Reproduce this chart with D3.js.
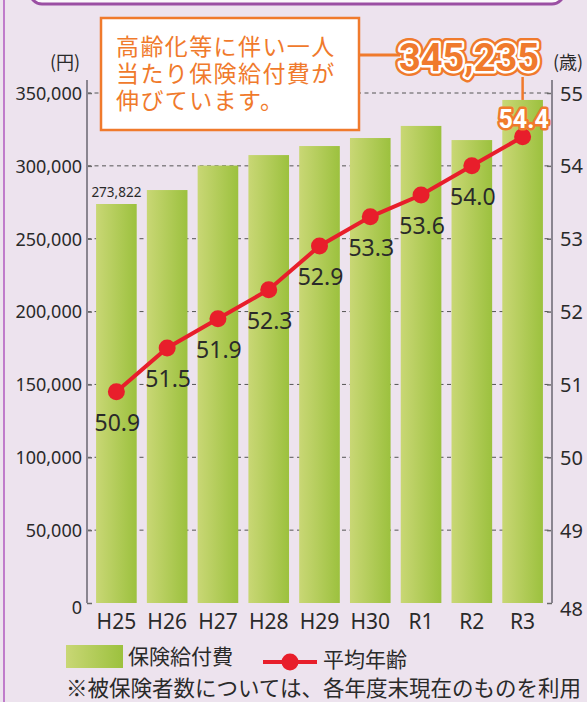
<!DOCTYPE html>
<html>
<head>
<meta charset="utf-8">
<script src="https://cdn.jsdelivr.net/npm/d3@7"></script>
<style>
  body { margin: 0; background: #ede3ee; }
  svg { display: block; }
</style>
</head>
<body>
<div id="chart"></div>
<script>
// data
const years = ["H25", "H26", "H27", "H28", "H29", "H30", "R1", "R2", "R3"];
const benefits = [273822, 283400, 300200, 307400, 313600, 319100, 327400, 317700, 345235];
const avgAge = [50.9, 51.5, 51.9, 52.3, 52.9, 53.3, 53.6, 54.0, 54.4];
const yenTicks = [0, 50000, 100000, 150000, 200000, 250000, 300000, 350000];
const ageTicks = [48, 49, 50, 51, 52, 53, 54, 55];
const calloutLines = ["高齢化等に伴い一人", "当たり保険給付費が", "伸びています。"];
const legendNames = ["保険給付費", "平均年齢"];
const note = "※被保険者数については、各年度末現在のものを利用";

const W = 587, H = 702;
const orange = "#f07a2c", red = "#e81e2b", ink = "#2a2a2a";
const jp = "'Noto Sans CJK JP', 'Noto Sans', sans-serif";
const num = "'Noto Sans', 'DejaVu Sans', sans-serif";

const svg = d3.select("#chart").append("svg")
    .attr("width", W)
    .attr("height", H);

const defs = svg.append("defs");
const grad = defs.append("linearGradient")
    .attr("id", "barGrad")
    .attr("x1", "0%").attr("x2", "100%").attr("y1", "0%").attr("y2", "0%");
grad.append("stop").attr("offset", "0%").attr("stop-color", "#c9d775");
grad.append("stop").attr("offset", "100%").attr("stop-color", "#9cc13e");

svg.append("rect").attr("width", W).attr("height", H).attr("fill", "#ede3ee");

// frame bits of the page
svg.append("rect")
    .attr("x", 30).attr("y", -40).attr("width", 534).attr("height", 44)
    .attr("rx", 12)
    .attr("fill", "#fbf8fb").attr("stroke", "#9b4fa3").attr("stroke-width", 3);
svg.append("line")
    .attr("x1", 4).attr("x2", 4).attr("y1", 0).attr("y2", H)
    .attr("stroke", "#c07ccb").attr("stroke-width", 2);

// scales
const x = d3.scaleBand()
    .domain(years)
    .range([91, 548])
    .paddingInner(0.2)
    .paddingOuter(0.1);

const yL = d3.scaleLinear().domain([0, 350000]).range([603, 93]);
const yR = d3.scaleLinear().domain([48, 55]).range([603, 93]);

const axisLeftX = 87, axisRightX = 552;

// dashed grid
svg.append("g").selectAll("line")
    .data(yenTicks.filter(d => d > 0))
    .enter().append("line")
    .attr("x1", axisLeftX).attr("x2", axisRightX)
    .attr("y1", d => yL(d)).attr("y2", d => yL(d))
    .attr("stroke", "#555")
    .attr("stroke-width", 1)
    .attr("stroke-dasharray", "4,3.5");

// bars
svg.append("g").selectAll("rect")
    .data(benefits)
    .enter().append("rect")
    .attr("x", (d, i) => x(years[i]))
    .attr("width", x.bandwidth())
    .attr("y", d => yL(d))
    .attr("height", d => yL(0) - yL(d))
    .attr("fill", "url(#barGrad)");

// first bar value
svg.append("text")
    .attr("x", x(years[0]) + x.bandwidth() / 2)
    .attr("y", yL(benefits[0]) - 7)
    .attr("text-anchor", "middle")
    .attr("font-family", num)
    .attr("font-size", 14)
    .attr("textLength", 50)
    .attr("lengthAdjust", "spacingAndGlyphs")
    .attr("fill", ink)
    .text(d3.format(",")(benefits[0]));

// axes
const gL = svg.append("g")
    .attr("transform", `translate(${axisLeftX},0)`)
    .call(d3.axisLeft(yL).tickValues(yenTicks).tickFormat(d3.format(",")).tickSize(-5).tickPadding(5));
const gR = svg.append("g")
    .attr("transform", `translate(${axisRightX},0)`)
    .call(d3.axisRight(yR).tickValues(ageTicks).tickFormat(d3.format("d")).tickSize(-5).tickPadding(8));

[gL, gR].forEach(g => {
    g.select(".domain").remove();
    g.selectAll(".tick line").attr("stroke", "#6a6a6a").attr("stroke-width", 1.5);
    g.selectAll(".tick text")
        .attr("fill", ink)
        .attr("font-family", num);
});
gL.selectAll(".tick text").attr("font-size", 18).attr("dy", "0.35em");
gR.selectAll(".tick text").attr("font-size", 20).attr("dy", "0.35em");
gR.selectAll(".tick").filter(d => d === 48).select("text").attr("dy", "0.6em");
gL.selectAll(".tick").filter(d => d === 0).select("text").attr("dy", "0.6em");

[axisLeftX, axisRightX].forEach(ax => {
    svg.append("line")
        .attr("x1", ax).attr("x2", ax).attr("y1", 80).attr("y2", 603)
        .attr("stroke", "#8a8590").attr("stroke-width", 2);
});

// x labels
svg.append("g").selectAll("text")
    .data(years)
    .enter().append("text")
    .attr("x", d => x(d) + x.bandwidth() / 2)
    .attr("y", 629)
    .attr("text-anchor", "middle")
    .attr("font-family", num)
    .attr("font-size", 21)
    .attr("fill", ink)
    .text(d => d);

// unit labels
svg.append("text")
    .attr("x", 65).attr("y", 69)
    .attr("text-anchor", "middle")
    .attr("font-family", jp).attr("font-size", 18).attr("fill", ink)
    .text("(円)");
svg.append("text")
    .attr("x", 568).attr("y", 69)
    .attr("text-anchor", "middle")
    .attr("font-family", jp).attr("font-size", 18).attr("fill", ink)
    .text("(歳)");

// age line
const cx = i => x(years[i]) + x.bandwidth() / 2;
const line = d3.line()
    .x((d, i) => cx(i))
    .y(d => yR(d));

svg.append("path")
    .datum(avgAge)
    .attr("d", line)
    .attr("fill", "none")
    .attr("stroke", red)
    .attr("stroke-width", 4);

svg.append("g").selectAll("circle")
    .data(avgAge)
    .enter().append("circle")
    .attr("cx", (d, i) => cx(i))
    .attr("cy", d => yR(d))
    .attr("r", 8.5)
    .attr("fill", red);

// age labels
svg.append("g").selectAll("text")
    .data(avgAge.slice(0, -1))
    .enter().append("text")
    .attr("x", (d, i) => cx(i) + 1)
    .attr("y", d => yR(d) + 39)
    .attr("text-anchor", "middle")
    .attr("font-family", num)
    .attr("font-size", 23)
    .attr("fill", ink)
    .text(d => d.toFixed(1));

// last age label: white with orange outline
const last = avgAge.length - 1;
svg.append("text")
    .attr("x", cx(last) + 1)
    .attr("y", yR(avgAge[last]) - 9)
    .attr("text-anchor", "middle")
    .attr("font-family", "Roboto, 'Noto Sans', sans-serif")
    .attr("font-weight", "bold")
    .attr("font-size", 25)
    .attr("fill", "#fff")
    .attr("stroke", orange)
    .attr("stroke-width", 5)
    .attr("stroke-linejoin", "round")
    .attr("paint-order", "stroke")
    .text(avgAge[last].toFixed(1));

// callout
svg.append("line")
    .attr("x1", cx(last)).attr("x2", cx(last))
    .attr("y1", 77).attr("y2", yL(benefits[last]))
    .attr("stroke", orange).attr("stroke-width", 2.5);
svg.append("line")
    .attr("x1", 358).attr("x2", 400).attr("y1", 55).attr("y2", 55)
    .attr("stroke", orange).attr("stroke-width", 3);

svg.append("rect")
    .attr("x", 101).attr("y", 18).attr("width", 258).attr("height", 112)
    .attr("fill", "#fff")
    .attr("stroke", orange).attr("stroke-width", 2.5);

svg.append("g").selectAll("text")
    .data(calloutLines)
    .enter().append("text")
    .attr("x", 116)
    .attr("y", (d, i) => 55 + i * 27)
    .attr("font-family", jp)
    .attr("font-size", 23)
    .attr("letter-spacing", 1.4)
    .attr("fill", orange)
    .text(d => d);

const bigText = d3.format(",")(benefits[last]);
[{w: 10, c: orange}, {w: 5, c: "#fff"}, {w: 0, c: "none"}].forEach(s => {
    svg.append("text")
        .attr("x", 469).attr("y", 71)
        .attr("text-anchor", "middle")
        .attr("font-family", "Roboto, 'Noto Sans', sans-serif")
        .attr("font-weight", "bold")
        .attr("font-size", 39)
        .attr("textLength", 140)
        .attr("lengthAdjust", "spacingAndGlyphs")
        .attr("fill", orange)
        .attr("stroke", s.c)
        .attr("stroke-width", s.w)
        .attr("stroke-linejoin", "round")
        .text(bigText);
});

// legend
const legend = svg.append("g");
legend.append("rect")
    .attr("x", 66).attr("y", 645).attr("width", 57).attr("height", 23)
    .attr("fill", "url(#barGrad)");
legend.append("text")
    .attr("x", 128).attr("y", 664)
    .attr("font-family", jp).attr("font-size", 21).attr("fill", ink)
    .text(legendNames[0]);
legend.append("line")
    .attr("x1", 263).attr("x2", 317).attr("y1", 662).attr("y2", 662)
    .attr("stroke", red).attr("stroke-width", 4);
legend.append("circle")
    .attr("cx", 290).attr("cy", 662).attr("r", 8.5)
    .attr("fill", red);
legend.append("text")
    .attr("x", 323).attr("y", 667)
    .attr("font-family", jp).attr("font-size", 21).attr("fill", ink)
    .text(legendNames[1]);

svg.append("text")
    .attr("x", 66).attr("y", 696)
    .attr("font-family", jp).attr("font-size", 21.5).attr("fill", ink)
    .text(note);
</script>
</body>
</html>
